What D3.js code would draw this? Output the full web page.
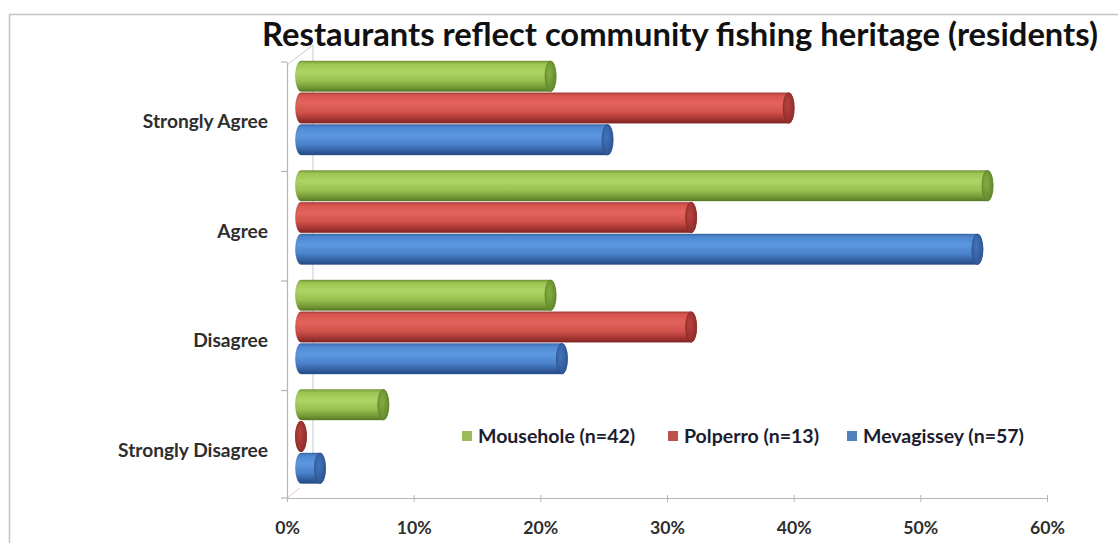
<!DOCTYPE html>
<html>
<head>
<meta charset="utf-8">
<script src="https://cdn.jsdelivr.net/npm/d3@7"></script>
<style>
  body { margin: 0; background: #fff; }
  svg { display: block; }
  text { font-family: Lato, "Open Sans", sans-serif; font-weight: 700; }
</style>
</head>
<body>
<svg id="chart" width="1118" height="543"></svg>
<script>
// ---- data ----
const title = "Restaurants reflect community fishing heritage (residents)";
const categories = ["Strongly Agree", "Agree", "Disagree", "Strongly Disagree"];
const seriesNames = ["Mousehole (n=42)", "Polperro (n=13)", "Mevagissey (n=57)"];
const mousehole = [19.7, 54.2, 19.7, 6.5];
const polperro = [38.5, 30.8, 30.8, 0];
const mevagissey = [24.2, 53.4, 20.6, 1.5];
const xTickValues = [0, 10, 20, 30, 40, 50, 60];

const seriesValues = [mousehole, polperro, mevagissey];

// ---- colours for the cylinder shading ----
const palettes = [
  { stops: ["#7a9a3a", "#9cc553", "#acd565", "#98c150", "#6e9232", "#56772505"], cap: "#86ad43", rim: "#5e8529", key: "#9bbb59" },
  { stops: ["#b0413d", "#d95650", "#e3645d", "#d0504a", "#9a302d", "#80252305"], cap: "#b8423e", rim: "#8a2a27", key: "#c0504d" },
  { stops: ["#3c6cae", "#4f88d2", "#5c97df", "#4a82cb", "#2f5898", "#264a8205"], cap: "#4274ba", rim: "#2c5390", key: "#4f81bd" }
].map(p => ({ ...p, stops: p.stops.map(s => s.slice(0, 7)) }));
const stopOffsets = [0, 0.1, 0.35, 0.65, 0.9, 1];

const svg = d3.select("#chart");
const W = 1118, H = 543;

// fit a text element to a given width by scaling its font size
function fitWidth(sel, baseSize, width, sample) {
  const node = sample || sel.node();
  d3.select(node).style("font-size", baseSize + "px");
  const w = node.getComputedTextLength();
  sel.style("font-size", (baseSize * width / w).toFixed(2) + "px");
}

// chart frame
svg.append("rect")
  .attr("x", 9.5).attr("y", 14.5)
  .attr("width", W + 20).attr("height", H + 20)
  .attr("fill", "#fff").attr("stroke", "#c4c4c4").attr("stroke-width", 1.5);

// ---- scales (front plane of the 3-D plot) ----
const x = d3.scaleLinear().domain([0, 60]).range([287, 1047]);
const y = d3.scaleBand().domain(categories).range([62, 500]).paddingInner(0).paddingOuter(0);
const inner = d3.scaleBand().domain(d3.range(seriesNames.length)).range([0, 94]).paddingInner(0.04);

// depth shift of the bars relative to the front plane
const depthX = 14, depthY = -1;
// back wall shift
const wallX = 26, wallY = -20;

const defs = svg.append("defs");
palettes.forEach((p, i) => {
  const g = defs.append("linearGradient")
    .attr("id", "cyl" + i).attr("x1", 0).attr("y1", 0).attr("x2", 0).attr("y2", 1);
  p.stops.forEach((c, k) => g.append("stop").attr("offset", stopOffsets[k]).attr("stop-color", c));
  const cg = defs.append("radialGradient")
    .attr("id", "cap" + i).attr("cx", 0.4).attr("cy", 0.4).attr("r", 0.7);
  cg.append("stop").attr("offset", 0).attr("stop-color", p.cap);
  cg.append("stop").attr("offset", 1).attr("stop-color", p.rim);
});

// ---- walls ----
const walls = svg.append("g").attr("fill", "none").attr("stroke", "#c9c9c9").attr("stroke-width", 1);
const [y0, y1] = [y.range()[0], y.range()[1]];
const xb = x(0);
walls.append("path")
  .attr("d", `M${xb},${y0 + 3} L${xb + wallX},${y0 + 3 + wallY} L${xb + wallX},${y1 + wallY - 2}`);
walls.append("path")
  .attr("stroke", "#e6caca")
  .attr("d", `M${xb},${y1 - 2} L${xb + wallX / 2},${y1 - 2 + wallY / 2}`);

// ---- bars ----
const rx = 5.5;
function cylinderPath(xa, xe, top, h) {
  const r = h / 2;
  return `M${xa},${top} L${xe},${top} A${rx},${r} 0 0 1 ${xe},${top + h} ` +
         `L${xa},${top + h} A${rx},${r} 0 0 1 ${xa},${top} Z`;
}

const barsG = svg.append("g");
categories.forEach((cat, ci) => {
  const groupTop = y(cat) + depthY;
  seriesValues.forEach((vals, si) => {
    const v = vals[ci];
    const top = groupTop + inner(si);
    const h = inner.bandwidth();
    const xa = x(0) + depthX;
    const xe = x(v) + depthX;
    barsG.append("path")
      .attr("d", cylinderPath(xa, xe, top, h))
      .attr("fill", `url(#cyl${si})`)
      .attr("stroke", palettes[si].rim).attr("stroke-width", 0.6).attr("stroke-opacity", 0.6);
    barsG.append("ellipse")
      .attr("cx", xe).attr("cy", top + h / 2)
      .attr("rx", rx).attr("ry", h / 2)
      .attr("fill", `url(#cap${si})`)
      .attr("stroke", palettes[si].rim).attr("stroke-width", 0.8);
  });
});

// ---- axes ----
const xAxis = d3.axisBottom(x)
  .tickValues(xTickValues)
  .tickFormat(d => d + "%")
  .tickSizeInner(4).tickSizeOuter(0).tickPadding(19);
const gx = svg.append("g").attr("transform", `translate(0,${y1 - 2})`).call(xAxis);
gx.select(".domain").attr("stroke", "#b5b5b5").attr("stroke-width", 1.2);
gx.selectAll(".tick line").attr("stroke", "#b5b5b5").attr("y1", -3);
const xLabels = gx.selectAll(".tick text").attr("fill", "#2e2e2e");
fitWidth(xLabels, 16, 35, xLabels.filter(d => d === 30).node());

const yAxis = d3.axisLeft(y).tickSize(0).tickPadding(19);
const gy = svg.append("g").attr("transform", `translate(${x(0)},0)`).call(yAxis);
gy.select(".domain").attr("stroke", "#b5b5b5").attr("stroke-width", 1.2);
const yLabels = gy.selectAll(".tick text").attr("fill", "#2e2e2e").attr("dy", "0.6em");
fitWidth(yLabels, 15, 150, yLabels.filter(d => d === "Strongly Disagree").node());

// category boundary ticks
svg.append("g").selectAll("line")
  .data(categories.map(c => y(c)).concat([y1 - 2]))
  .join("line")
  .attr("x1", x(0) - 6).attr("x2", x(0))
  .attr("y1", d => d).attr("y2", d => d)
  .attr("stroke", "#b5b5b5").attr("stroke-width", 1.2);

// ---- legend ----
const legendX = [462, 668, 847];
const legendY = 436;
const lg = svg.append("g");
seriesNames.forEach((name, i) => {
  lg.append("rect")
    .attr("x", legendX[i]).attr("y", legendY - 5)
    .attr("width", 10).attr("height", 10)
    .attr("fill", palettes[i].key);
});
const legendText = lg.selectAll("text")
  .data(seriesNames)
  .join("text")
  .attr("x", (d, i) => legendX[i] + 16).attr("y", legendY)
  .attr("dy", "0.36em")
  .attr("fill", "#1c1c30")
  .text(d => d);
fitWidth(legendText, 15, 161, legendText.filter((d, i) => i === 2).node());

// ---- title ----
const t = svg.append("text")
  .attr("x", 680).attr("y", 46)
  .attr("text-anchor", "middle")
  .attr("fill", "#111")
  .text(title);
fitWidth(t, 28, 836);
</script>
</body>
</html>
